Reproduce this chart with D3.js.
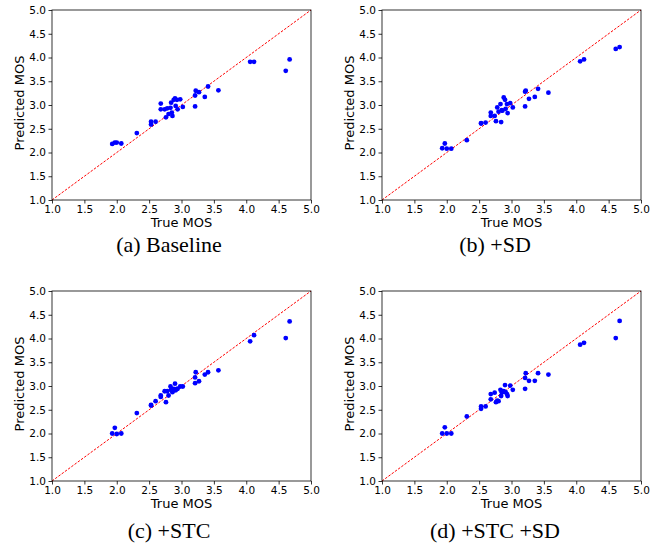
<!DOCTYPE html>
<meta charset="utf-8">
<style>
    body { margin: 0; background: #fff; }
    .tick text { font-family: "DejaVu Sans", sans-serif; font-size: 10.5px; fill: #000; }
    .axlabel { font-family: "DejaVu Sans", sans-serif; font-size: 13px; fill: #000; }
    .caption { font-family: "Liberation Serif", "Times New Roman", serif; font-size: 22px; fill: #000; }
</style>
<svg width="664" height="546"></svg>
<script src="https://d3js.org/d3.v7.min.js"></script>
<script>
    // true MOS shared by all four runs
    var trueMos = [1.93, 1.97, 2.00, 2.07, 2.31, 2.53, 2.53, 2.60, 2.68, 2.68, 2.74, 2.76,
        2.78, 2.80, 2.83, 2.84, 2.85, 2.86, 2.88, 2.90, 2.91, 2.93, 2.94, 2.98,
        3.02, 3.21, 3.22, 3.21, 3.27, 3.36, 3.41, 3.57, 4.06, 4.12, 4.61, 4.67];

    var predBaseline = [2.18, 2.21, 2.21, 2.19, 2.41, 2.65, 2.59, 2.65, 3.03, 2.91, 2.91, 2.74,
        2.93, 2.81, 2.94, 3.05, 2.84, 2.77, 3.11, 3.14, 2.98, 3.11, 2.91, 3.12,
        2.96, 2.97, 3.30, 3.20, 3.27, 3.17, 3.39, 3.31, 3.91, 3.91, 3.72, 3.96];

    var predSD = [2.09, 2.19, 2.08, 2.08, 2.26, 2.62, 2.61, 2.63, 2.84, 2.77, 2.77, 2.66,
        2.95, 2.86, 3.02, 2.64, 2.89, 2.88, 3.16, 3.11, 2.92, 3.02, 2.83, 3.04,
        2.95, 2.97, 3.30, 3.28, 3.13, 3.17, 3.34, 3.26, 3.92, 3.96, 4.18, 4.22];

    var predSTC = [2.00, 2.12, 1.99, 2.00, 2.43, 2.59, 2.60, 2.68, 2.77, 2.80, 2.89, 2.66,
        2.89, 2.80, 2.99, 2.92, 2.92, 2.87, 2.94, 3.05, 2.91, 2.94, 2.94, 2.99,
        2.99, 3.06, 3.29, 3.18, 3.10, 3.24, 3.29, 3.33, 3.94, 4.07, 4.01, 4.36];

    var predSTCSD = [2.00, 2.13, 2.00, 2.00, 2.36, 2.52, 2.57, 2.57, 2.83, 2.72, 2.86, 2.66,
        2.69, 2.68, 2.92, 2.79, 2.87, 2.87, 2.89, 3.02, 2.87, 2.83, 2.79, 3.01,
        2.92, 2.94, 3.27, 3.17, 3.11, 3.11, 3.27, 3.24, 3.87, 3.91, 4.01, 4.37];

    var captions = ["(a) Baseline", "(b) +SD", "(c) +STC", "(d) +STC +SD"];
    var predicted = [predBaseline, predSD, predSTC, predSTCSD];
    var ticks = [1.0, 1.5, 2.0, 2.5, 3.0, 3.5, 4.0, 4.5, 5.0];
    var domain = [1, 5];

    var svg = d3.select("svg");

    var panelW = 259, panelH = 190;
    var origins = [[52, 10], [382, 10], [52, 291], [382, 291]];
    var captionPos = [[169, 252], [495, 252], [169, 538], [495, 538]];

    var x = d3.scaleLinear().domain(domain).range([0, panelW]);
    var y = d3.scaleLinear().domain(domain).range([panelH, 0]);
    var fmt = d3.format(".1f");

    predicted.forEach(function(pred, i) {
        var g = svg.append("g")
            .attr("transform", "translate(" + origins[i][0] + "," + origins[i][1] + ")");

        var xAxis = d3.axisBottom(x).tickValues(ticks).tickFormat(fmt)
            .tickSizeInner(3.5).tickSizeOuter(0).tickPadding(2.5);
        var yAxis = d3.axisLeft(y).tickValues(ticks).tickFormat(fmt)
            .tickSizeInner(3.5).tickSizeOuter(0).tickPadding(2.5);

        g.append("g").attr("transform", "translate(0," + panelH + ")").call(xAxis)
            .select(".domain").remove();
        g.append("g").call(yAxis).select(".domain").remove();
        g.selectAll(".tick line").attr("stroke", "#000").attr("stroke-width", 0.8);

        // identity line
        g.append("line")
            .attr("x1", x(domain[0])).attr("y1", y(domain[0]))
            .attr("x2", x(domain[1])).attr("y2", y(domain[1]))
            .attr("stroke", "#ff0000")
            .attr("stroke-width", 1)
            .attr("stroke-dasharray", "2.5,1.5");

        g.append("g")
            .selectAll("circle")
            .data(trueMos)
            .enter().append("circle")
            .attr("cx", function(d) { return x(d); })
            .attr("cy", function(d, j) { return y(pred[j]); })
            .attr("r", 2.4)
            .attr("fill", "#0000ff");

        g.append("rect")
            .attr("width", panelW).attr("height", panelH)
            .attr("fill", "none").attr("stroke", "#000").attr("stroke-width", 0.8);

        g.append("text").attr("class", "axlabel")
            .attr("x", panelW / 2).attr("y", panelH + 27)
            .attr("text-anchor", "middle")
            .text("True MOS");

        g.append("text").attr("class", "axlabel")
            .attr("transform", "translate(-28," + (panelH / 2 - 2) + ") rotate(-90)")
            .attr("text-anchor", "middle")
            .text("Predicted MOS");

        svg.append("text").attr("class", "caption")
            .attr("x", captionPos[i][0]).attr("y", captionPos[i][1])
            .attr("text-anchor", "middle")
            .text(captions[i]);
    });
</script>
